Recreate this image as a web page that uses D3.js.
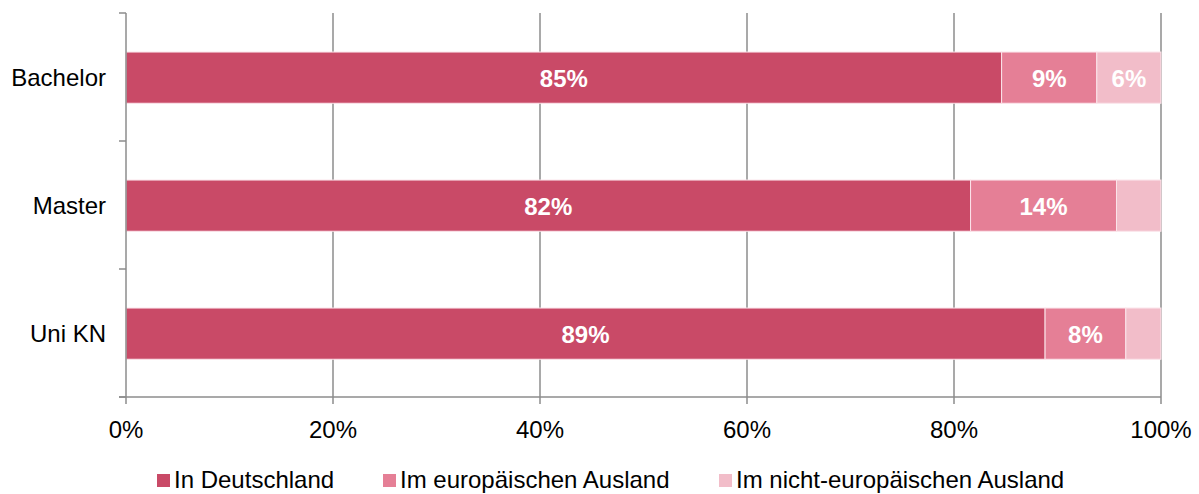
<!DOCTYPE html>
<html><head><meta charset="utf-8">
<script src="https://cdn.jsdelivr.net/npm/d3@7"></script>
<style>body{margin:0;background:#fff;}svg{display:block;font-family:"Liberation Sans",Arial,sans-serif;}</style>
</head><body><svg id="c" width="1199" height="494"></svg>
<script>
const categories = ["Bachelor", "Master", "Uni KN"];
const seriesNames = ["In Deutschland", "Im europäischen Ausland", "Im nicht-europäischen Ausland"];
const inDeutschland = [84.6, 81.6, 88.8];
const europaeisch = [9.2, 14.1, 7.8];
const nichtEuropaeisch = [6.2, 4.3, 3.4];
const tickValues = [0, 20, 40, 60, 80, 100];
const colors = ["#c94a67", "#e57f96", "#f2bdc9"];

const svg = d3.select("#c");
const x = d3.scaleLinear().domain([0, 100]).range([126, 1161]);
const yBand = d3.scaleBand().domain(categories).range([13, 397]);
const barY = c => yBand(c) + yBand.bandwidth() * 0.305;
const barH = yBand.bandwidth() * 0.4;

// gridlines
svg.append("g").selectAll("line").data(tickValues.slice(1)).join("line")
  .attr("x1", d => x(d)).attr("x2", d => x(d)).attr("y1", 13).attr("y2", 397)
  .attr("stroke", "#8c8c8c").attr("stroke-width", 1.5);

const table = categories.map((c, i) => ({cat: c, v: [inDeutschland[i], europaeisch[i], nichtEuropaeisch[i]]}));
const bars = svg.append("g");
table.forEach(row => {
  let acc = 0;
  row.v.forEach((v, j) => {
    const x0 = acc; acc += v;
    bars.append("rect").attr("x", x(x0)).attr("width", x(acc) - x(x0))
      .attr("y", barY(row.cat)).attr("height", barH)
      .attr("fill", colors[j]).attr("stroke", "#fbe4ea").attr("stroke-width", 1);
    if (v >= 5) {
      bars.append("text").attr("x", (x(x0) + x(acc)) / 2).attr("y", barY(row.cat) + barH / 2 + 1)
        .attr("text-anchor", "middle").attr("dominant-baseline", "central")
        .attr("fill", "#fff").attr("font-weight", "bold").attr("font-size", 24)
        .text(Math.round(v) + "%");
    }
  });
});

// axes
const ax = svg.append("g").attr("stroke", "#8c8c8c").attr("stroke-width", 1.5);
ax.append("line").attr("x1", 126).attr("x2", 126).attr("y1", 13).attr("y2", 397);
const yTicks = categories.map(c => yBand(c)).concat([397]);
ax.selectAll(".yt").data(yTicks).join("line").attr("class", "yt")
  .attr("x1", 119).attr("x2", 126).attr("y1", d => d).attr("y2", d => d);
ax.append("line").attr("x1", 119).attr("x2", 1161).attr("y1", 397).attr("y2", 397);
ax.selectAll(".xt").data(tickValues).join("line").attr("class", "xt")
  .attr("x1", d => x(d)).attr("x2", d => x(d)).attr("y1", 397).attr("y2", 404);

svg.append("g").selectAll("text").data(tickValues).join("text")
  .attr("x", d => x(d)).attr("y", 429).attr("text-anchor", "middle").attr("dominant-baseline", "central")
  .attr("font-size", 24).attr("fill", "#000").text(d => d + "%");

svg.append("g").selectAll("text").data(categories).join("text")
  .attr("x", 106).attr("y", d => barY(d) + barH / 2).attr("text-anchor", "end").attr("dominant-baseline", "central")
  .attr("font-size", 24).attr("fill", "#000").text(d => d);

// legend
const legX = [157, 383, 719];
const leg = svg.append("g");
seriesNames.forEach((n, i) => {
  leg.append("rect").attr("x", legX[i]).attr("y", 474).attr("width", 13).attr("height", 13).attr("fill", colors[i]);
  leg.append("text").attr("x", legX[i] + 17).attr("y", 479).attr("dominant-baseline", "central")
    .attr("font-size", 24).attr("fill", "#000").text(n);
});
</script></body></html>
